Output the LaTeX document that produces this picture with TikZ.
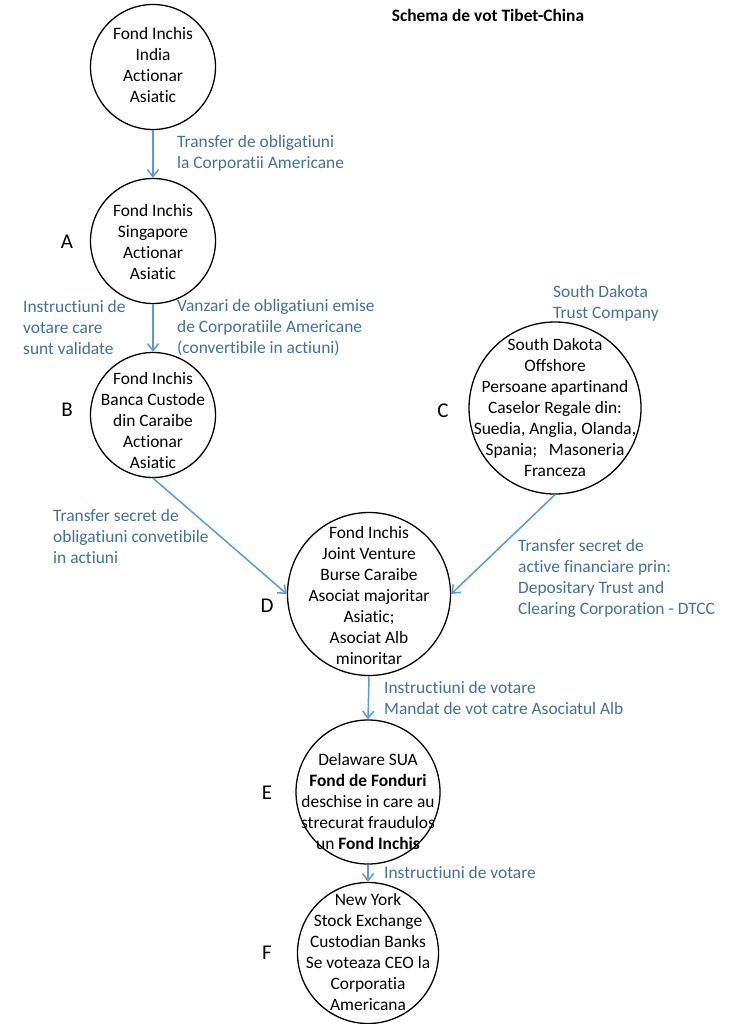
\documentclass[tikz,border=0pt]{standalone}
\usepackage{fontspec}
\setmainfont{Carlito}[Ligatures=NoCommon]
\usetikzlibrary{arrows.meta,shapes.geometric}
\definecolor{arrowblue}{HTML}{5B9BD5}
\definecolor{labelblue}{HTML}{41719C}
\begin{document}
\begin{tikzpicture}[x=1pt,y=-1pt,
  every node/.style={font=\fontsize{17.4}{21}\selectfont},
  circ/.style={draw=black, line width=1.3pt, circle, inner sep=0pt},
  ctext/.style={align=center, inner sep=0pt, text=black},
  lbl/.style={align=left, anchor=west, inner sep=0pt, text=labelblue},
  letter/.style={font=\fontsize{21}{24}\selectfont, inner sep=0pt},
  flow/.style={draw=arrowblue, line width=1.5pt, -{Straight Barb[length=7pt,width=11pt,line width=1.5pt]}}
]
\useasboundingbox (0,0) rectangle (738,1024);

% title
\node[font=\fontsize{17.4}{21}\selectfont\bfseries] (title) at (488,15) {Schema de vot Tibet-China};

% circles
\node[circ, minimum size=125] (T) at (153,67) {};
\node[ctext] (Tt) at (153,65) {Fond Inchis\\India\\Actionar\\Asiatic};

\node[circ, minimum size=125] (A) at (153,241) {};
\node[ctext] (At) at (153,242) {Fond Inchis\\Singapore\\Actionar\\Asiatic};

\node[circ, minimum size=125] (B) at (153,415) {};
\node[ctext] (Bt) at (153,421) {Fond Inchis\\Banca Custode\\din Caraibe\\Actionar\\Asiatic};

\node[circ, minimum size=172] (C) at (555,408) {};
\node[ctext] (Ct) at (555,408) {South Dakota\\Offshore\\Persoane apartinand\\Caselor Regale din:\\Suedia, Anglia, Olanda,\\Spania;\ \ \ Masoneria\\Franceza};

\node[circ, minimum size=163] (D) at (369,594) {};
\node[ctext] (Dt) at (369,596) {Fond Inchis\\Joint Venture\\Burse Caraibe\\Asociat majoritar\\Asiatic;\\Asociat Alb\\minoritar};

\node[circ, minimum size=144] (E) at (368,792) {};
\node[ctext] (Et) at (368,802) {Delaware SUA\\\textbf{Fond de Fonduri}\\deschise in care au\\strecurat fraudulos\\un \textbf{Fond Inchis}};

\node[circ, minimum size=141] (F) at (368,953) {};
\node[ctext] (Ft) at (368,952) {New York\\Stock Exchange\\Custodian Banks\\Se voteaza CEO la\\Corporatia\\Americana};

% letters
\node[letter] (la) at (67,242) {A};
\node[letter] (lb) at (67,410) {B};
\node[letter] (lc) at (443,411) {C};
\node[letter] (ld) at (267,606) {D};
\node[letter] (le) at (267,793) {E};
\node[letter] (lf) at (267,953) {F};

% connectors
\draw[flow] (T.south) -- (A.north);
\draw[flow] (A.south) -- (B.north);
\draw[flow] (B.south) -- (D.west);
\draw[flow] (C.south) -- (D.east);
\draw[flow] (D.south) -- (E.north);
\draw[flow] (E.south) -- (F.north);

% labels
\node[lbl] (l1) at (177,153) {Transfer de obligatiuni\\la Corporatii Americane};
\node[lbl] (l2) at (23,328) {Instructiuni de\\votare care\\sunt validate};
\node[lbl] (l3) at (177,328) {Vanzari de obligatiuni emise\\de Corporatiile Americane\\(convertibile in actiuni)};
\node[lbl] (l4) at (553,303) {South Dakota\\Trust Company};
\node[lbl] (l5) at (53,537) {Transfer secret de\\obligatiuni convetibile\\in actiuni};
\node[lbl] (l6) at (518,578) {Transfer secret de\\active financiare prin:\\Depositary Trust and\\Clearing Corporation - DTCC};
\node[lbl] (l7) at (384,698) {Instructiuni de votare\\Mandat de vot catre Asociatul Alb};
\node[lbl] (l8) at (384,873) {Instructiuni de votare};
\end{tikzpicture}
\end{document}
